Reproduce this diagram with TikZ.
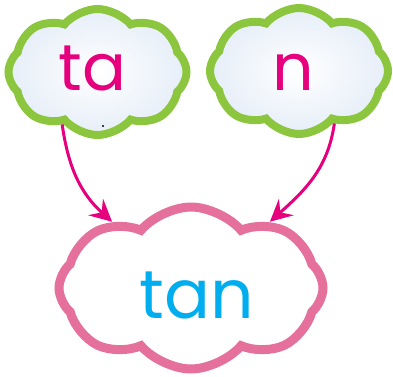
\documentclass[tikz,border=0pt]{standalone}
\usepackage{fontspec}
\setmainfont{Poppins}
\usetikzlibrary{arrows.meta}
\usetikzlibrary{shapes.symbols}
\usepackage{xcolor}
\definecolor{leafgreen}{HTML}{8CC63F}
\definecolor{rosepink}{HTML}{E5709C}
\definecolor{inkpink}{HTML}{E6007E}
\definecolor{inkcyan}{HTML}{00AEEF}
\definecolor{skyhaze}{HTML}{E6EEF8}

\begin{document}
\begin{tikzpicture}[x=1pt,y=1pt,
  topcloud/.style={cloud, cloud puffs=8, cloud puff arc=100, aspect=1.45, draw=leafgreen, line width=8,
    inner color=white, outer color=skyhaze, minimum width=178, minimum height=126, inner sep=0},
  bigword/.style={anchor=base, font=\fontsize{65}{65}\selectfont},
  joiner/.style={inkpink, line width=3, -{Stealth[length=22pt,width=22pt,inset=8pt]}}]
\useasboundingbox (0,0) rectangle (393,376);
% the two syllables
\node[topcloud] (taCloud) at (97.5,304) {};
\node[topcloud] (nCloud) at (299,305) {};
\node[bigword, text=inkpink] (ta) at (92.5,286) {ta};
\node[bigword, text=inkpink] (n) at (293.5,286) {n};
\fill (103,250) circle (1.2);
% the word
\node[cloud, cloud puffs=8, cloud puff arc=100, aspect=1.6, draw=rosepink, line width=9, fill=white,
  minimum width=264, minimum height=162, inner sep=0] (tanCloud) at (191,88) {};
\node[bigword, text=inkcyan, font=\fontsize{68}{68}\selectfont] (tan) at (197,58) {tan};
% joining arrows
\draw[joiner] (taCloud.236) to[out=-82, in=138] (tanCloud.140);
\draw[joiner] (nCloud.-56) to[out=-98, in=42] (tanCloud.40);
\end{tikzpicture}
\end{document}
